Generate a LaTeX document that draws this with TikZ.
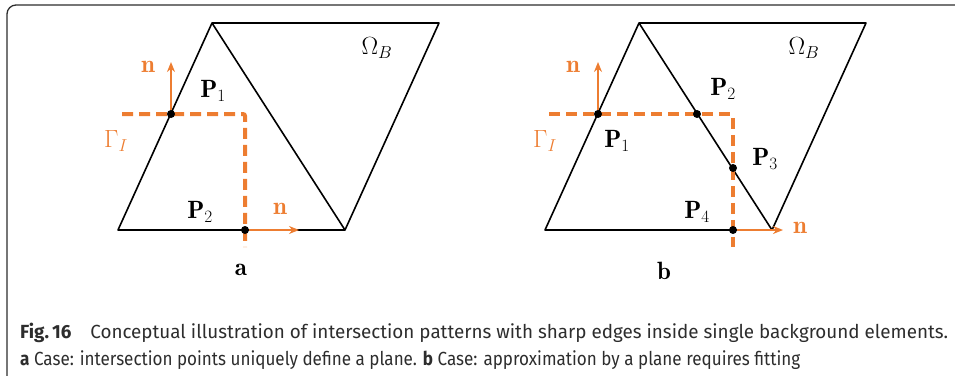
\documentclass[tikz,border=0pt]{standalone}
\usepackage{fontspec}
\usepackage{graphicx}
\newfontfamily\capfont{Fira Sans}
\usetikzlibrary{arrows.meta}
\definecolor{orng}{RGB}{237,125,49}
\definecolor{capgray}{RGB}{45,45,45}
\tikzset{
  edge/.style={line width=1.6pt, line join=round},
  gammaline/.style={draw=orng, line width=4pt, dash pattern=on 11pt off 6pt, rounded corners=2pt},
  normal/.style={draw=orng, line width=1.8pt, -{Stealth[length=10pt,width=8pt]}},
  pt/.style={circle, fill=black, inner sep=0pt, minimum size=8pt},
  lbl/.style={font=\fontsize{25}{30}\selectfont, inner sep=0pt},
  olbl/.style={lbl, text=orng},
  capt/.style={font=\capfont\fontsize{19}{22}\selectfont, text=capgray, inner sep=0pt, anchor=base west}
}
\begin{document}
\begin{tikzpicture}[x=1pt,y=-1pt]
\useasboundingbox (0,0) rectangle (955,375);
\clip (0,0) rectangle (955,375);

% frame
\draw[capgray, line width=1.3pt, rounded corners=9pt] (7,385) -- (7,5) -- (975,5) -- (975,385) -- cycle;

% Panel a: elements
\coordinate (aT) at (212,23);
\coordinate (aR) at (439,23);
\coordinate (aL) at (118,230);
\coordinate (aB) at (345,230);
\draw[edge] (aL) -- (aT) -- (aB) -- cycle;
\draw[edge] (aT) -- (aR) -- (aB);

% Panel a: interface
\coordinate (aG0) at (122,114);
\coordinate (aGc) at (245,114);
\coordinate (aG1) at (245,247);
\draw[gammaline] (aG0) -- (aGc) -- (aG1);
\node[pt] (aP1) at (171,114) {};
\node[pt] (aP2) at (245,230) {};
\coordinate (aN1) at (171,62);
\coordinate (aN2) at (299,230);
\draw[normal] (aP1) -- (aN1);
\draw[normal] (aP2) -- (aN2);

% Panel a: labels
\node[olbl] (an1) at (148,67) {$\mathbf{n}$};
\node[olbl] (an2) at (280,209) {$\mathbf{n}$};
\node[lbl] (alP1) at (213,91) {$\mathbf{P}_1$};
\node[lbl] (alP2) at (200,212) {$\mathbf{P}_2$};
\node[olbl] (aGam) at (116,141) {$\Gamma_I$};
\node[lbl] (aOm) at (377,48) {$\Omega_B$};
\node[lbl] (atag) at (241,270) {$\mathbf{a}$};

% Panel b: elements
\coordinate (bT) at (639,23);
\coordinate (bR) at (866,23);
\coordinate (bL) at (545,230);
\coordinate (bB) at (772,230);
\draw[edge] (bL) -- (bT) -- (bB) -- cycle;
\draw[edge] (bT) -- (bR) -- (bB);

% Panel b: interface
\coordinate (bG0) at (549,114);
\coordinate (bGc) at (733,114);
\coordinate (bG1) at (733,247);
\draw[gammaline] (bG0) -- (bGc) -- (bG1);
\node[pt] (bP1) at (598,114) {};
\node[pt] (bP2) at (697,114) {};
\node[pt] (bP3) at (733,168) {};
\node[pt] (bP4) at (733,230) {};
\coordinate (bN1) at (598,62);
\coordinate (bN2) at (783,230);
\draw[normal] (bP1) -- (bN1);
\draw[normal] (bP4) -- (bN2);

% Panel b: labels
\node[olbl] (bn1) at (573,67) {$\mathbf{n}$};
\node[olbl] (bn2) at (800,228) {$\mathbf{n}$};
\node[lbl] (blP1) at (617,141) {$\mathbf{P}_1$};
\node[lbl] (blP2) at (723,89) {$\mathbf{P}_2$};
\node[lbl] (blP3) at (765,159) {$\mathbf{P}_3$};
\node[lbl] (blP4) at (697,212) {$\mathbf{P}_4$};
\node[olbl] (bGam) at (545,141) {$\Gamma_I$};
\node[lbl] (bOm) at (804,48) {$\Omega_B$};
\node[lbl] (btag) at (664,271) {$\mathbf{b}$};

% caption
\node[capt] (cap1) at (20,338) {\resizebox{928pt}{\height}{\textbf{Fig.\,16}\quad Conceptual illustration of intersection patterns with sharp edges inside single background elements.}};
\node[capt] (cap2) at (20,365) {\resizebox{780pt}{\height}{\textbf{a} Case: intersection points uniquely define a plane. \textbf{b} Case: approximation by a plane requires fitting}};
\end{tikzpicture}
\end{document}
